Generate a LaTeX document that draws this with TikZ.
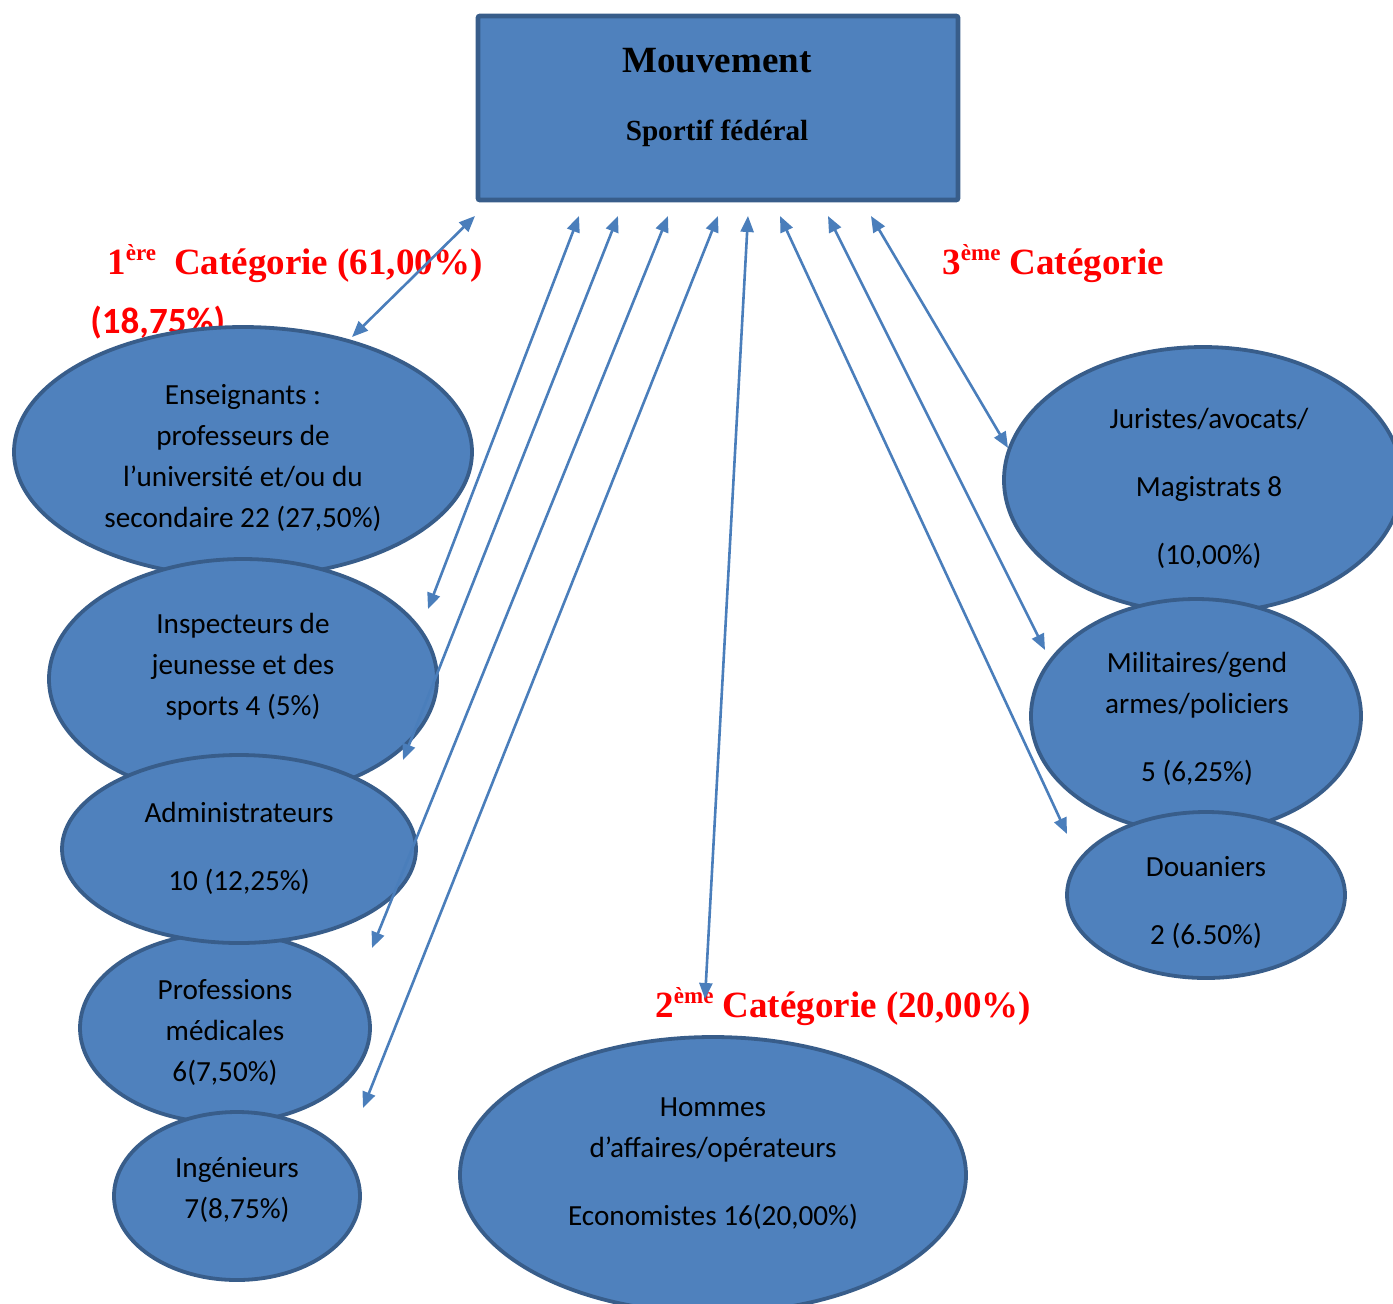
\documentclass[tikz,border=0pt]{standalone}
\usepackage{fontspec}
\usepackage{tikz}
\usetikzlibrary{shapes.geometric,arrows.meta}
\newfontfamily\calib{Carlito}
\newfontfamily\tnr{Liberation Serif}
\definecolor{bubblefill}{RGB}{79,129,189}
\definecolor{bubbleline}{RGB}{56,93,138}
\definecolor{linkblue}{RGB}{74,126,187}
\newcommand{\ordsup}[1]{\raisebox{7pt}{\fontsize{11.5}{12}\selectfont #1}}
\begin{document}
\begin{tikzpicture}[x=0.5pt,y=-0.5pt,
                    headbox/.style={rectangle, draw=bubbleline, fill=bubblefill, line width=2.4pt, rounded corners=1pt, inner sep=0pt},
                    bubble/.style={ellipse, draw=bubbleline, fill=bubblefill, line width=1.9pt, inner sep=0pt},
                    txt/.style={align=center, inner sep=0pt, font=\calib\fontsize{14.6}{20.5}\selectfont},
                    cat/.style={inner sep=0pt, anchor=base west, text=red, font=\tnr\bfseries\fontsize{18.5}{22}\selectfont},
                    link/.style={draw=linkblue, line width=1.3pt,
                      {Triangle[length=8pt,width=6.5pt]}-{Triangle[length=8pt,width=6.5pt]}}]

  \useasboundingbox (0,0) rectangle (1393,1303);
  \clip (0,0) rectangle (1393,1303);

  % category labels
  \node[cat] (cat1) at (107,274) {1\ordsup{ère}\hspace{9pt}Catégorie (61,00\%)};
  \node[cat, font=\calib\bfseries\fontsize{18.5}{22}\selectfont] (pct1) at (90,333) {(18,75\%)};
  \node[cat] (cat3) at (942,274) {3\ordsup{ème} Catégorie};
  \node[cat] (cat2) at (655,1017) {2\ordsup{ème} Catégorie (20,00\%)};

  % head box
  \node[headbox, minimum width=240pt, minimum height=92pt] (mvt) at (718,108) {};
  \node[anchor=base, inner sep=0pt, font=\tnr\bfseries\fontsize{18.5}{22}\selectfont] (mvt1) at (717,72) {Mouvement};
  \node[anchor=base, inner sep=0pt, font=\tnr\bfseries\fontsize{14.6}{18}\selectfont] (mvt2) at (717,140) {Sportif fédéral};

  % left column
  \node[bubble, minimum width=229pt, minimum height=125pt] (ens) at (243,452) {};
  \node[txt] (ens-t) at (243,458) {Enseignants :\\professeurs de\\l’université et/ou du\\secondaire 22 (27,50\%)};
  \node[bubble, minimum width=194pt, minimum height=120pt] (insp) at (243,679) {};
  \node[txt] (insp-t) at (243,667) {Inspecteurs de\\jeunesse et des\\sports 4 (5\%)};
  \node[bubble, minimum width=145pt, minimum height=95pt] (prof) at (225,1028) {};
  \node[txt] (prof-t) at (225,1032) {Professions\\médicales\\6(7,50\%)};
  \node[bubble, minimum width=177pt, minimum height=94pt] (adm) at (239,849) {};
  \node[txt] (adm-t) at (239,848) {Administrateurs\\[13.5pt]10 (12,25\%)};
  \node[bubble, minimum width=123pt, minimum height=84pt] (ing) at (237,1196) {};
  \node[txt] (ing-t) at (237,1190) {Ingénieurs\\7(8,75\%)};

  % bottom
  \node[bubble, minimum width=253pt, minimum height=138pt] (hom) at (713,1175) {};
  \node[txt] (hom-t) at (713,1164) {Hommes\\d’affaires/opérateurs\\[13.5pt]Economistes 16(20,00\%)};

  % right column
  \node[bubble, minimum width=199pt, minimum height=133pt] (jur) at (1203,480) {};
  \node[txt] (jur-t) at (1209,488) {Juristes/avocats/\\[13.5pt]Magistrats 8\\[13.5pt](10,00\%)};
  \node[bubble, minimum width=165pt, minimum height=117pt] (mil) at (1196,716) {};
  \node[txt] (mil-t) at (1197,719) {Militaires/gend\\armes/policiers\\[13.5pt]5 (6,25\%)};
  \node[bubble, minimum width=139pt, minimum height=83pt] (dou) at (1206,895) {};
  \node[txt] (dou-t) at (1206,902) {Douaniers\\[13.5pt]2 (6.50\%)};

  % arrow ends
  \coordinate (t-ens)  at (475,216);
  \coordinate (t-insp) at (579,216);
  \coordinate (t-adm)  at (618,216);
  \coordinate (t-prof) at (668,216);
  \coordinate (t-ing)  at (718,216);
  \coordinate (t-hom)  at (748,216);
  \coordinate (t-dou)  at (780,216);
  \coordinate (t-mil)  at (828,216);
  \coordinate (t-jur)  at (871,216);
  \coordinate (e-ens)  at (352,337);
  \coordinate (e-insp) at (428,609);
  \coordinate (e-adm)  at (403,760);
  \coordinate (e-prof) at (372,948);
  \coordinate (e-ing)  at (363,1108);
  \coordinate (e-hom)  at (705,999);
  \coordinate (e-dou)  at (1067,834);
  \coordinate (e-mil)  at (1045,650);
  \coordinate (e-jur)  at (1008,448);

  \foreach \n in {ens,insp,adm,prof,ing,hom,dou,mil,jur}
    \draw[link] (t-\n) -- (e-\n);
\end{tikzpicture}
\end{document}
